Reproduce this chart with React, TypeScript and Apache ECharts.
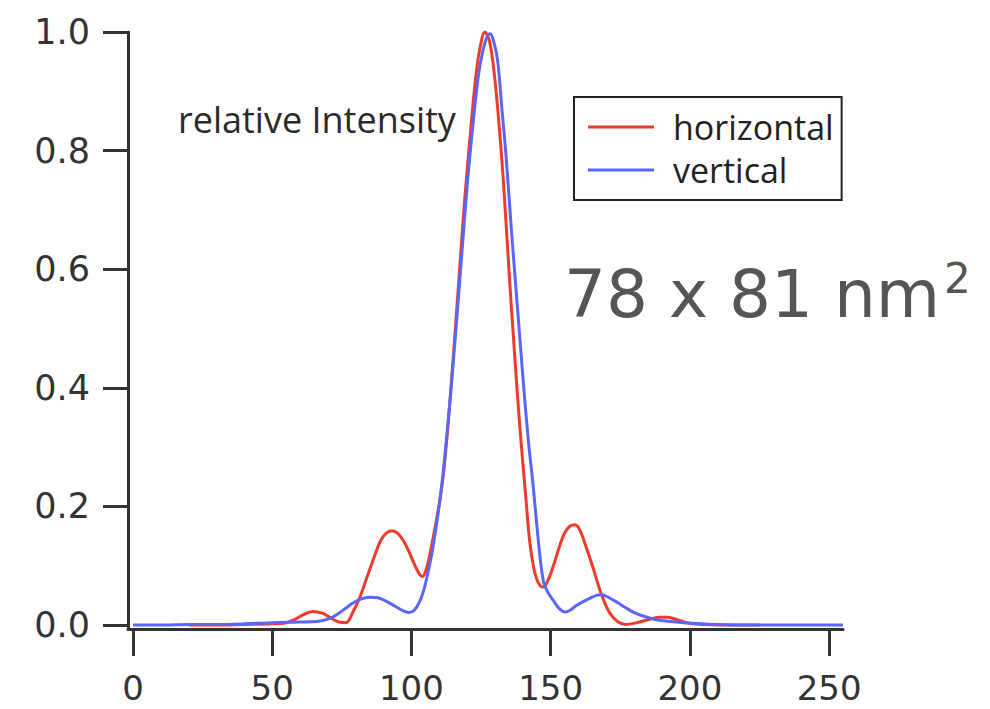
import React, { useEffect, useRef } from "react";
import * as echarts from "echarts";

const xTicks = [0, 50, 100, 150, 200, 250];
const yTicks = [0, 0.2, 0.4, 0.6, 0.8, 1.0];

const horizontalX = [20, 30, 40, 50, 55, 58, 61, 64.5, 68, 71, 74, 76.5, 79, 81.5, 84, 86.5, 89, 91, 93, 95, 97, 99, 101, 103, 104, 105.5, 107, 108.5, 110, 111.5, 113, 115, 117, 119, 121, 123, 124.5, 126.4, 128, 129.5, 131, 133, 135, 137, 139, 141, 142.5, 144, 145.5, 147.3, 149, 151, 153, 155, 157, 158.8, 160.5, 162.5, 165, 168, 171, 174, 177, 181, 185, 189, 192, 196, 200, 205, 215, 225];
const horizontalY = [0.0, 0.0, 0.001, 0.002, 0.004, 0.009, 0.017, 0.023, 0.02, 0.012, 0.005, 0.004, 0.022, 0.047, 0.08, 0.113, 0.143, 0.155, 0.159, 0.155, 0.143, 0.125, 0.103, 0.085, 0.082, 0.097, 0.128, 0.165, 0.205, 0.255, 0.33, 0.45, 0.58, 0.71, 0.82, 0.92, 0.97, 1.0, 0.985, 0.94, 0.87, 0.75, 0.6, 0.46, 0.33, 0.22, 0.14, 0.095, 0.072, 0.064, 0.075, 0.1, 0.13, 0.155, 0.167, 0.169, 0.16, 0.135, 0.1, 0.055, 0.022, 0.006, 0.001, 0.004, 0.009, 0.013, 0.013, 0.008, 0.003, 0.001, 0.0, 0.0];

const verticalX = [0, 10, 20, 30, 40, 50, 60, 66, 70, 73, 76, 79, 82, 85, 88, 91, 94, 97, 99, 101, 103, 104.5, 106, 107.5, 109, 110.5, 112, 114, 116, 118, 120, 122, 124, 125.5, 127, 128.2, 129.5, 131, 132.5, 134, 136, 138, 140, 142, 143.5, 145, 146.3, 147.5, 149, 151, 153, 155.2, 157, 159, 161.5, 164, 166.5, 168.3, 171, 174, 177, 180, 184, 188, 193, 200, 210, 220, 240, 255];
const verticalY = [0.0, 0.0, 0.001, 0.001, 0.002, 0.004, 0.005, 0.006, 0.01, 0.017, 0.027, 0.037, 0.044, 0.047, 0.046, 0.04, 0.032, 0.024, 0.021, 0.025, 0.04, 0.06, 0.09, 0.125, 0.17, 0.22, 0.285, 0.385, 0.5, 0.62, 0.74, 0.84, 0.925, 0.965, 0.99, 0.997, 0.985, 0.95, 0.87, 0.79, 0.66, 0.54, 0.42, 0.31, 0.245, 0.17, 0.11, 0.072, 0.055, 0.041, 0.028, 0.022, 0.025, 0.032, 0.039, 0.045, 0.05, 0.051, 0.046, 0.038, 0.029, 0.021, 0.014, 0.009, 0.006, 0.003, 0.001, 0.0, 0.0, 0.0];

const RED = "#ef3b2c";
const BLUE = "#5a66f7";
const AXIS = "#333333";
const FONT = "Open Sans";
const TICK_FONT = "DejaVu Sans";

export default function App() {
  const ref = useRef<HTMLDivElement>(null);

  useEffect(() => {
    if (!ref.current) return;
    const chart = echarts.init(ref.current, undefined, { renderer: "svg" });
    const hData = horizontalX.map((x, i) => [x, horizontalY[i]]);
    const vData = verticalX.map((x, i) => [x, verticalY[i]]);

    chart.setOption({
      animation: false,
      backgroundColor: "#ffffff",
      grid: { left: 128, right: 147, top: 32, bottom: 80, containLabel: false },
      xAxis: {
        type: "value",
        min: -1.8,
        max: 255,
        splitLine: { show: false },
        axisLine: { onZero: false, lineStyle: { color: AXIS, width: 3 } },
        axisTick: {
          customValues: xTicks,
          length: 27,
          lineStyle: { color: AXIS, width: 3 },
        },
        axisLabel: {
          customValues: xTicks,
          margin: 44,
          fontSize: 34,
          lineHeight: 30,
          fontFamily: TICK_FONT,
          color: AXIS,
          formatter: (v: number) => String(v),
        },
      },
      yAxis: {
        type: "value",
        min: -0.0067,
        max: 1.0,
        splitLine: { show: false },
        axisLine: { onZero: false, lineStyle: { color: AXIS, width: 3 } },
        axisTick: {
          customValues: yTicks,
          length: 25,
          lineStyle: { color: AXIS, width: 3 },
        },
        axisLabel: {
          customValues: yTicks,
          margin: 38,
          fontSize: 35,
          fontFamily: TICK_FONT,
          color: AXIS,
          formatter: (v: number) => v.toFixed(1),
        },
      },
      legend: {
        left: 574,
        top: 97,
        orient: "vertical",
        padding: [13, 8, 13, 14],
        itemGap: 9,
        itemWidth: 66,
        itemHeight: 3,
        borderColor: "#222222",
        borderWidth: 2,
        icon: "rect",
        data: ["horizontal", "vertical"],
        textStyle: {
          fontSize: 34,
          lineHeight: 34,
          fontFamily: FONT,
          color: "#222222",
          padding: [0, 0, 0, 14],
        },
      },
      graphic: [
        {
          type: "text",
          x: 178,
          y: 119,
          style: {
            text: "relative Intensity",
            fontSize: 36,
            fontFamily: FONT,
            fill: "#2a2a2a",
            verticalAlign: "middle",
            align: "left",
          },
        },
        {
          type: "text",
          x: 564,
          y: 294,
          style: {
            text: "78 x 81 nm",
            fontSize: 66,
            fontFamily: "DejaVu Sans",
            fill: "#555555",
            verticalAlign: "middle",
            align: "left",
          },
        },
        {
          type: "text",
          x: 944,
          y: 278,
          style: {
            text: "2",
            fontSize: 42,
            fontFamily: "DejaVu Sans",
            fill: "#555555",
            verticalAlign: "middle",
            align: "left",
          },
        },
      ],
      series: [
        {
          name: "horizontal",
          type: "line",
          data: hData,
          smooth: 0.35,
          showSymbol: false,
          symbol: "none",
          lineStyle: { color: RED, width: 3 },
          itemStyle: { color: RED },
          z: 2,
        },
        {
          name: "vertical",
          type: "line",
          data: vData,
          smooth: 0.35,
          showSymbol: false,
          symbol: "none",
          lineStyle: { color: BLUE, width: 3 },
          itemStyle: { color: BLUE },
          z: 3,
        },
      ],
    });

    return () => chart.dispose();
  }, []);

  return (
    <div
      ref={ref}
      style={{ position: "fixed", left: 0, top: 0, width: 990, height: 709 }}
    />
  );
}
